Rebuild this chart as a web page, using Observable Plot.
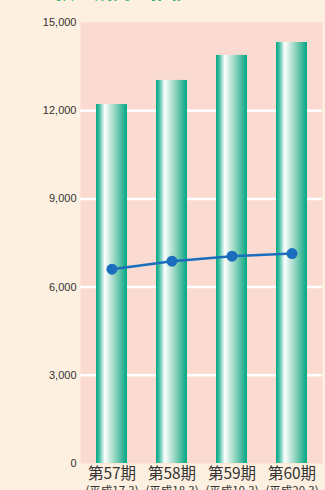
<!DOCTYPE html>
<html><head><meta charset="utf-8">
<script src="https://cdn.jsdelivr.net/npm/d3@7"></script>
<script src="https://cdn.jsdelivr.net/npm/@observablehq/plot@0.6"></script>
<style>
html,body{margin:0;padding:0;background:#fdf0e0;}
#chart{width:325px;height:490px;overflow:hidden;}
</style></head>
<body><div id="chart"></div>
<script>
const periods = ["第57期","第58期","第59期","第60期"];
const subLabels = ["(平成17.3)","(平成18.3)","(平成19.3)","(平成20.3)"];
const barValues = [12210, 13030, 13880, 14320];
const lineValues = [6610, 6880, 7050, 7140];
const yTicks = [0, 3000, 6000, 9000, 12000, 15000];
const gridTicks = [3000, 6000, 9000, 12000];

const rows = periods.map((p,i)=>({p, sub: subLabels[i], bar: barValues[i], line: lineValues[i]}));

const defs = () => {
  const ns = "http://www.w3.org/2000/svg";
  const d = document.createElementNS(ns, "defs");
  const g = document.createElementNS(ns, "linearGradient");
  g.setAttribute("id","barGrad");
  g.setAttribute("x1","0"); g.setAttribute("x2","1"); g.setAttribute("y1","0"); g.setAttribute("y2","0");
  [[0,"#00a886"],[0.1,"#3dbd9f"],[0.28,"#ffffff"],[0.55,"#a8dccb"],[0.85,"#3cb899"],[1,"#00a886"]].forEach(([o,c])=>{
    const s = document.createElementNS(ns,"stop");
    s.setAttribute("offset", o); s.setAttribute("stop-color", c);
    g.appendChild(s);
  });
  d.appendChild(g);
  return d;
};

const chart = Plot.plot({
  width: 325,
  height: 490,
  marginLeft: 80,
  marginRight: 3,
  marginTop: 22,
  marginBottom: 27,
  style: {background: "#fdf0e0", fontFamily: "'Liberation Sans', Arial, sans-serif", overflow: "visible"},
  x: {domain: periods, paddingInner: 0.49, paddingOuter: 0.245, axis: null},
  y: {domain: [0, 15000], axis: null},
  marks: [
    defs,
    Plot.frame({fill: "#fbdad2", stroke: null}),
    Plot.ruleY(gridTicks, {stroke: "#ffffff", strokeWidth: 2.5, strokeOpacity: 1}),
    Plot.barY(rows, {x: "p", y: "bar", fill: "url(#barGrad)"}),
    Plot.line(rows, {x: "p", y: "line", stroke: "#1a6ebd", strokeWidth: 2.5}),
    Plot.dot(rows, {x: "p", y: "line", r: 5.5, fill: "#1a6ebd", stroke: null}),
    Plot.text(yTicks, {y: d => d, text: d => d3.format(",")(d), frameAnchor: "left", dx: -4, textAnchor: "end", fontSize: 11, fill: "#333"}),
    Plot.text(rows, {x: "p", text: "p", frameAnchor: "bottom", dy: 11, fontSize: 15.5, fill: "#333", fontFamily: "'Noto Sans CJK JP', sans-serif", lineAnchor: "middle"}),
    Plot.text(rows, {x: "p", text: "sub", frameAnchor: "bottom", dy: 28, fontSize: 11.5, fill: "#333", fontFamily: "'Noto Sans CJK JP', sans-serif", lineAnchor: "middle"}),
    Plot.text(["預金残高の推移"], {frameAnchor: "top-left", dx: -25, dy: -23.5, fontSize: 19, fontWeight: "bold", fill: "#1fae5c", textAnchor: "start", lineAnchor: "bottom", fontFamily: "'Noto Sans CJK JP', sans-serif"}),
    Plot.text(["（単位：百万円）"], {frameAnchor: "top-left", dx: 175, dy: -23.5, fontSize: 11, fill: "#888", textAnchor: "start", lineAnchor: "bottom", fontFamily: "'Noto Sans CJK JP', sans-serif"})
  ]
});
document.getElementById("chart").appendChild(chart);
</script>
</body></html>
